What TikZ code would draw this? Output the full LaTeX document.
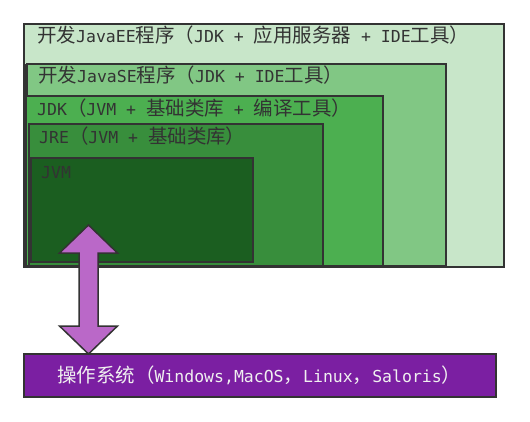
\documentclass[tikz,border=0pt]{standalone}
\usepackage{fontspec}
\setmainfont{DejaVu Sans Mono}
\newfontfamily\zhfont[Scale=1.18]{Noto Sans CJK SC}
\newcommand{\zh}[1]{{\zhfont #1}}
\definecolor{edge}{HTML}{333333}
\definecolor{eeC}{HTML}{C8E6C9}
\definecolor{seC}{HTML}{81C784}
\definecolor{jdkC}{HTML}{4CAF50}
\definecolor{jreC}{HTML}{388E3C}
\definecolor{jvmC}{HTML}{1B5E20}
\definecolor{osC}{HTML}{7B1FA2}
\definecolor{arrC}{HTML}{BA68C8}
\tikzset{
	layer/.style={draw=edge, line width=1.6pt, anchor=north west, inner sep=0pt, outer sep=0pt},
	lbl/.style={anchor=base west, inner sep=0pt, text=edge, font=\fontsize{16.5}{18}\selectfont},
}
\begin{document}
\begin{tikzpicture}[x=1pt, y=-1pt]
	\useasboundingbox (0,0) rectangle (530,421);
	% nested boxes
	\node[layer, fill=eeC, line width=2.2pt, minimum width=480pt, minimum height=243pt] (ee) at (24,24) {};
	\fill[edge] (24,64) rectangle (30,267);
	\node[layer, fill=seC, minimum width=419pt, minimum height=202pt] (se) at (27,64) {};
	\node[layer, fill=jdkC, minimum width=357pt, minimum height=170pt] (jdk) at (26,96) {};
	\node[layer, fill=jreC, minimum width=294pt, minimum height=142pt] (jre) at (29,124) {};
	\node[layer, fill=jvmC, minimum width=222pt, minimum height=104pt] (jvm) at (31,158) {};
	\draw[edge, line width=2.2pt] (ee.south west) -- (ee.south east);

	\node[lbl] (eeT) at ([xshift=13pt, yshift=-18.5pt]ee.north west) {\zh{开发}JavaEE\zh{程序（}JDK + \zh{应用服务器} + IDE\zh{工具）}};
	\node[lbl] (seT) at ([xshift=11pt, yshift=-18pt]se.north west) {\zh{开发}JavaSE\zh{程序（}JDK + IDE\zh{工具）}};
	\node[lbl] (jdkT) at ([xshift=11pt, yshift=-19pt]jdk.north west) {JDK\zh{（}JVM + \zh{基础类库} + \zh{编译工具）}};
	\node[lbl] (jreT) at ([xshift=10pt, yshift=-19pt]jre.north west) {JRE\zh{（}JVM + \zh{基础类库）}};
	\node[lbl] (jvmT) at ([xshift=10pt, yshift=-20pt]jvm.north west) {JVM};

	% operating system
	\node[layer, fill=osC, line width=2pt, minimum width=472pt, minimum height=43pt] (os) at (24,354) {};
	\node[lbl, text=white!94!black] (osT) at ([xshift=33pt, yshift=-28pt]os.north west) {\zh{操作系统（}Windows,MacOS\zh{，}Linux\zh{，}Saloris\zh{）}};

	% double arrow jvm <-> os
	\coordinate (tipOS) at ([xshift=64.5pt]os.north west);
	\draw[edge, fill=arrC, line width=1.5pt, line join=miter] (tipOS) -- ++(-29,-28) -- ++(19.5,0) -- ++(0,-73) -- ++(-19.5,0) -- ++(29,-28)
		-- ++(29,28) -- ++(-19.5,0) -- ++(0,73) -- ++(19.5,0) -- cycle;
\end{tikzpicture}
\end{document}
